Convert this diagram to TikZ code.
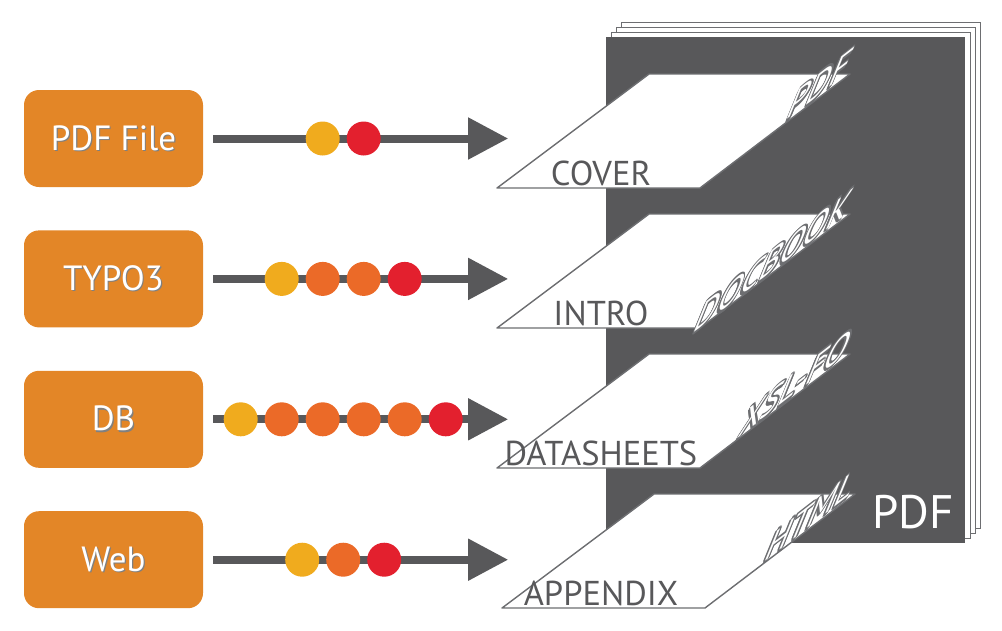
\documentclass[tikz,border=0pt]{standalone}
\usepackage{fontspec}
\setmainfont{PT Sans}
\usetikzlibrary{positioning,arrows.meta}

\definecolor{boxorange}{HTML}{E38627}
\definecolor{docgray}{HTML}{58585A}
\definecolor{edgegray}{HTML}{6D6E71}
\definecolor{dotyellow}{HTML}{F0AB1E}
\definecolor{dotorange}{HTML}{EB6A28}
\definecolor{dotred}{HTML}{E3202E}

% white text with a soft shadow / a gray rim
\newcommand{\shadowed}[1]{\rlap{\kern1.2pt\raisebox{-1.2pt}{\textcolor{black!50}{#1}}}\textcolor{white}{#1}}
\newcommand{\rim}[3]{\rlap{\kern#1\raisebox{#2}{\textcolor{edgegray}{#3}}}}
\newcommand{\outlined}[1]{%
  \rim{-1.6pt}{0pt}{#1}\rim{1.6pt}{0pt}{#1}\rim{0pt}{1.6pt}{#1}\rim{0pt}{-1.6pt}{#1}%
  \rim{-1.1pt}{1.1pt}{#1}\rim{1.1pt}{1.1pt}{#1}\rim{-1.1pt}{-1.1pt}{#1}\rim{1.1pt}{-1.1pt}{#1}%
  \rim{-1.4pt}{-1.9pt}{#1}\rim{-0.7pt}{-2pt}{#1}%
  \textcolor{white}{#1}}

\begin{document}
\begin{tikzpicture}[x=1pt, y=-1pt,
    source/.style = {fill=boxorange, rounded corners=15pt, minimum width=179pt, minimum height=97pt, font=\fontsize{35}{40}\selectfont},
    flow/.style = {draw=docgray, line width=8pt, -{Triangle[length=40pt, width=40pt]}},
    dot/.style = {circle, inner sep=0pt, minimum size=34pt},
    page/.style = {draw=edgegray, fill=white, line width=1.1pt},
    slab/.style = {draw=edgegray, fill=white, line width=1.4pt, line join=round},
    part/.style = {anchor=base, inner sep=0pt, text=docgray, font=\fontsize{34.5}{36}\selectfont},
    format/.style = {anchor=base east, inner sep=0pt, transform shape, font=\fontsize{33}{36}\selectfont}]
        \useasboundingbox (0,0) rectangle (1002,630);
        % the document: pages behind, dark cover page
        \foreach \k in {3,2,1}
            \draw[page] ({606+5.3*\k},{37-4.8*\k}) rectangle +(359,506);
        \fill[docgray] (606,37) rectangle (965,543);
        \node[anchor=base west, inner sep=0pt, text=white, font=\fontsize{47}{50}\selectfont] (pdf) at (872,528) {PDF};
        % the layers
        \foreach \lbl/\fmt/\dx [count=\i from 0] in {COVER/PDF/0, INTRO/DOCBOOK/0, DATASHEETS/XSL-FO/0, APPENDIX/HTML/5} {
            \draw[slab] (649+\dx,74+140*\i) -- (850+\dx,74+140*\i) -- (700+\dx,188+140*\i) -- (497+\dx,188+140*\i) -- cycle;
            \coordinate (corner\i) at (844+\dx,76+140*\i);
            \node[part] (part\i) at (601,185+140*\i) {\lbl};
            \node[format, cm={1.03,0.80,0.54,1.32,(0,0)}] (fmt\i) at (corner\i) {\outlined{\fmt}};
        }
        % the sources
        \node[source] (pdffile) at (113.5,138.5) {\shadowed{PDF File}};
        \node[source] (typo3) [below=43pt of pdffile] {\shadowed{TYPO3}};
        \node[source] (db) [below=43pt of typo3] {\shadowed{DB}};
        \node[source] (web) [below=43pt of db] {\shadowed{Web}};
        \foreach \src/\n [count=\r] in {pdffile/2, typo3/4, db/6, web/3} {
            \coordinate[right=305pt of \src.east] (tip\r);
            \draw[flow, shorten <=10pt] (\src) -- (tip\r);
            \foreach \k in {1,...,\n} {
                \ifnum\k=1 \def\dotcol{dotyellow}\else\ifnum\k=\n \def\dotcol{dotred}\else\def\dotcol{dotorange}\fi\fi
                \node[dot, fill=\dotcol] (dot\r\k) at ([xshift={140pt-20.5pt*(\n-1)+41pt*(\k-1)}]\src.east) {};
            }
        }
    \end{tikzpicture}
\end{document}
